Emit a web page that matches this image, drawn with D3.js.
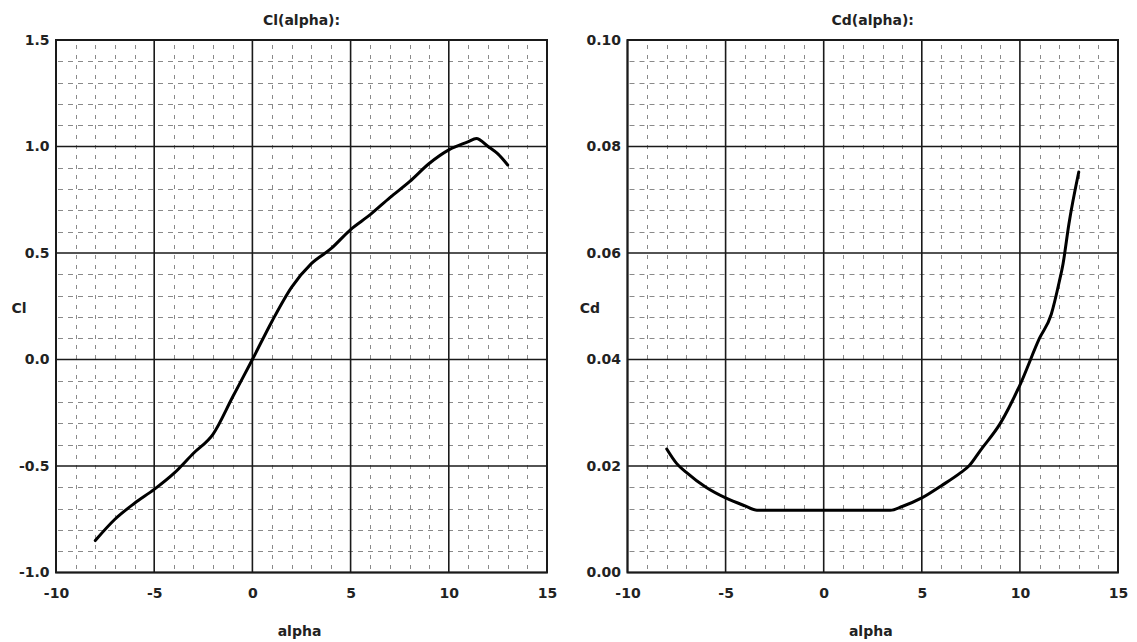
<!DOCTYPE html>
<html>
<head>
<meta charset="utf-8">
<script src="https://cdn.jsdelivr.net/npm/d3@7"></script>
<style>
  html, body { margin: 0; padding: 0; background: #fff; }
  svg { display: block; }
  text { font-family: "DejaVu Sans", Verdana, sans-serif; font-weight: bold; fill: #222; }
</style>
</head>
<body>
<svg id="chart" width="1137" height="642"></svg>
<script>
// ---- data ----
const alphaCl = [-8, -7, -6, -5, -4, -3, -2, -1, 0, 1, 2, 3, 4, 5, 6, 7, 8, 9, 10, 11, 11.4, 12, 12.5, 13];
const clValues = [-0.85, -0.75, -0.675, -0.61, -0.535, -0.44, -0.35, -0.175, 0.0, 0.18, 0.34, 0.45, 0.52, 0.61, 0.68, 0.76, 0.835, 0.92, 0.984, 1.023, 1.038, 1.0, 0.965, 0.913];

const alphaCd = [-8, -7.5, -7, -6, -5, -4, -3.4, 0, 3.4, 4, 5, 6, 7, 7.4, 8, 9, 10, 11, 11.6, 12, 12.2, 12.5, 13];
const cdValues = [0.0232, 0.0205, 0.0188, 0.0160, 0.0140, 0.0125, 0.0117, 0.0117, 0.0117, 0.0124, 0.0140, 0.0163, 0.0188, 0.0200, 0.0230, 0.0280, 0.0352, 0.0440, 0.0485, 0.0545, 0.0580, 0.0655, 0.0752];

const xTicks = [-10, -5, 0, 5, 10, 15];
const clTicks = [-1.0, -0.5, 0.0, 0.5, 1.0, 1.5];
const cdTicks = [0.00, 0.02, 0.04, 0.06, 0.08, 0.10];

const titles = ["Cl(alpha):", "Cd(alpha):"];
const yLabels = ["Cl", "Cd"];
const xLabel = "alpha";

// ---- layout ----
const svg = d3.select("#chart");
const plotTop = 40, plotBottom = 572.5;
const FONT = "'DejaVu Sans', Verdana, sans-serif";

const panels = [
  { x0: 56, x1: 547, yDomain: [-1, 1.5], ticks: clTicks, minorStep: 0.1, fmt: d => d.toFixed(1),
    xs: alphaCl, ys: clValues, title: titles[0], ylab: yLabels[0], ylabX: 19 },
  { x0: 627.5, x1: 1118, yDomain: [0, 0.1], ticks: cdTicks, minorStep: 0.004, fmt: d => d.toFixed(2),
    xs: alphaCd, ys: cdValues, title: titles[1], ylab: yLabels[1], ylabX: 590 }
];

panels.forEach(p => {
  const x = d3.scaleLinear().domain([-10, 15]).range([p.x0, p.x1]);
  const y = d3.scaleLinear().domain(p.yDomain).range([plotBottom, plotTop]);
  const g = svg.append("g");

  // minor grid
  const xMinor = d3.range(-10, 15.001, 1).filter(v => Math.abs(v % 5) > 1e-9);
  const nMinorY = Math.round((p.yDomain[1] - p.yDomain[0]) / p.minorStep);
  const majorStep = p.ticks[1] - p.ticks[0];
  const yMinor = d3.range(1, nMinorY).map(i => p.yDomain[0] + i * p.minorStep).filter(v => {
    const r = (v - p.yDomain[0]) / majorStep;
    return Math.abs(r - Math.round(r)) > 1e-6;
  });

  g.selectAll(".vminor").data(xMinor).join("line")
    .attr("x1", d => Math.round(x(d)) + 0.5).attr("x2", d => Math.round(x(d)) + 0.5)
    .attr("y1", plotTop).attr("y2", plotBottom)
    .attr("stroke", "#8a8a8a").attr("stroke-width", 1)
    .attr("stroke-dasharray", "4,6").attr("stroke-dashoffset", -5);

  g.selectAll(".hminor").data(yMinor).join("line")
    .attr("x1", p.x0).attr("x2", p.x1)
    .attr("y1", d => Math.round(y(d)) + 0.5).attr("y2", d => Math.round(y(d)) + 0.5)
    .attr("stroke", "#8a8a8a").attr("stroke-width", 1)
    .attr("stroke-dasharray", "5,5").attr("stroke-dashoffset", -2);

  // major grid
  g.selectAll(".vmajor").data(xTicks).join("line")
    .attr("x1", d => x(d)).attr("x2", d => x(d))
    .attr("y1", plotTop).attr("y2", plotBottom)
    .attr("stroke", "#1a1a1a").attr("stroke-width", 1.6);
  g.selectAll(".hmajor").data(p.ticks).join("line")
    .attr("x1", p.x0).attr("x2", p.x1)
    .attr("y1", d => y(d)).attr("y2", d => y(d))
    .attr("stroke", "#1a1a1a").attr("stroke-width", 1.6);

  // frame
  g.append("rect").attr("x", p.x0).attr("y", plotTop)
    .attr("width", p.x1 - p.x0).attr("height", plotBottom - plotTop)
    .attr("fill", "none").attr("stroke", "#1a1a1a").attr("stroke-width", 2);

  // axes (labels only)
  const ax = g.append("g").attr("transform", `translate(0,${plotBottom})`)
    .call(d3.axisBottom(x).tickValues(xTicks).tickSize(0).tickPadding(15.5).tickFormat(d => String(d)));
  const ay = g.append("g").attr("transform", `translate(${p.x0},0)`)
    .call(d3.axisLeft(y).tickValues(p.ticks).tickSize(0).tickPadding(6.5).tickFormat(p.fmt));
  [ax, ay].forEach(a => {
    a.select(".domain").remove();
    a.selectAll("text").attr("font-size", 14).attr("font-family", FONT)
      .attr("font-weight", "bold").attr("fill", "#222");
  });

  // curve
  const line = d3.line().x(d => x(d[0])).y(d => y(d[1])).curve(d3.curveMonotoneX);
  g.append("path").datum(d3.zip(p.xs, p.ys))
    .attr("d", line).attr("fill", "none").attr("stroke", "#000")
    .attr("stroke-width", 3).attr("stroke-linejoin", "round").attr("stroke-linecap", "round");

  // titles & labels
  g.append("text").attr("x", (p.x0 + p.x1) / 2).attr("y", 25)
    .attr("text-anchor", "middle").attr("font-size", 14).text(p.title);
  g.append("text").attr("x", p.ylabX).attr("y", 313)
    .attr("text-anchor", "middle").attr("font-size", 14).text(p.ylab);
  g.append("text").attr("x", (p.x0 + p.x1) / 2 - 2).attr("y", 636)
    .attr("text-anchor", "middle").attr("font-size", 14).text(xLabel);
});
</script>
</body>
</html>
